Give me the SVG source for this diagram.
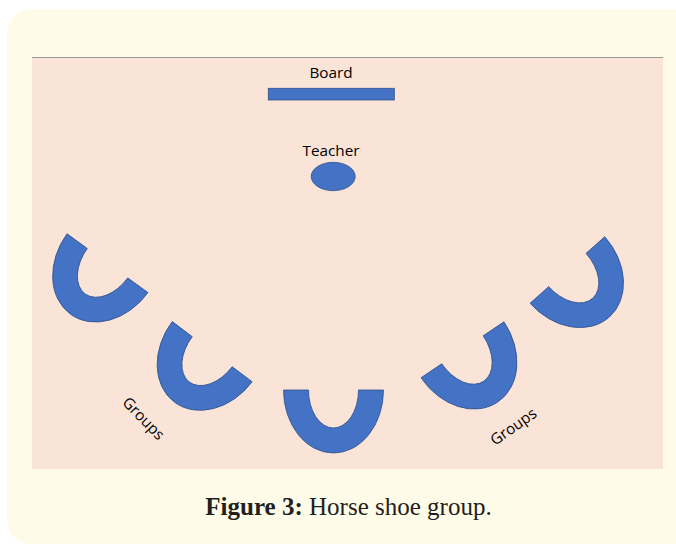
<svg xmlns="http://www.w3.org/2000/svg" width="676" height="544" viewBox="0 0 676 544">
  <style>
    .card { fill: #FEFBE9; }
    .room { fill: #FAE4D8; }
    .wall { stroke: #9A9A9A; stroke-width: 1.2; }
    .solid { fill: #4472C4; stroke: #2F528F; stroke-width: 0.8; }
    .lbl { font-family: "Open Sans", "Liberation Sans", sans-serif; font-size: 15.3px; fill: #000; }
    .cap { font-family: "Liberation Serif", "DejaVu Serif", serif; font-size: 25px; fill: #231F20; }
  </style>
  <defs>
    <!-- half-ring seat: open side on local y=0, curved back towards +y -->
    <path id="shoe" d="M -50 0 A 50 63 0 0 0 50 0 L 25 0 A 25 38 0 0 1 -25 0 Z"/>
  </defs>

  <!-- page card and classroom floor -->
  <rect class="card" x="7" y="9" width="690" height="535" rx="24"/>
  <rect class="room" x="32" y="57" width="631" height="412"/>
  <line class="wall" x1="32" y1="57.5" x2="663" y2="57.5"/>

  <g id="board">
    <text class="lbl" x="331" y="78" text-anchor="middle">Board</text>
    <rect class="solid" x="268.3" y="88.3" width="126" height="11.7"/>
  </g>

  <g id="teacher">
    <text class="lbl" x="331" y="156" text-anchor="middle">Teacher</text>
    <ellipse class="solid" cx="333.2" cy="176.5" rx="22" ry="14.2"/>
  </g>

  <g id="group-left-top">
    <use href="#shoe" class="solid" transform="translate(107.5 263.2) rotate(36)"/>
  </g>
  <g id="group-left-bottom">
    <use href="#shoe" class="solid" transform="translate(212.2 351.7) rotate(37)"/>
  </g>
  <g id="group-center">
    <use href="#shoe" class="solid" transform="translate(333.5 390)"/>
  </g>
  <g id="group-right-bottom">
    <use href="#shoe" class="solid" transform="translate(462.5 349.8) rotate(-34)"/>
  </g>
  <g id="group-right-top">
    <use href="#shoe" class="solid" transform="translate(567.4 270) rotate(-41.7)"/>
  </g>

  <g id="labels">
    <text class="lbl" text-anchor="middle" dominant-baseline="central" transform="translate(144 418) rotate(46)">Groups</text>
    <text class="lbl" text-anchor="middle" dominant-baseline="central" transform="translate(513 426) rotate(-35)">Groups</text>
  </g>

  <g id="connectors"></g>

  <text class="cap" x="348.5" y="515" text-anchor="middle"><tspan font-weight="bold">Figure 3:</tspan> Horse shoe group.</text>
</svg>
